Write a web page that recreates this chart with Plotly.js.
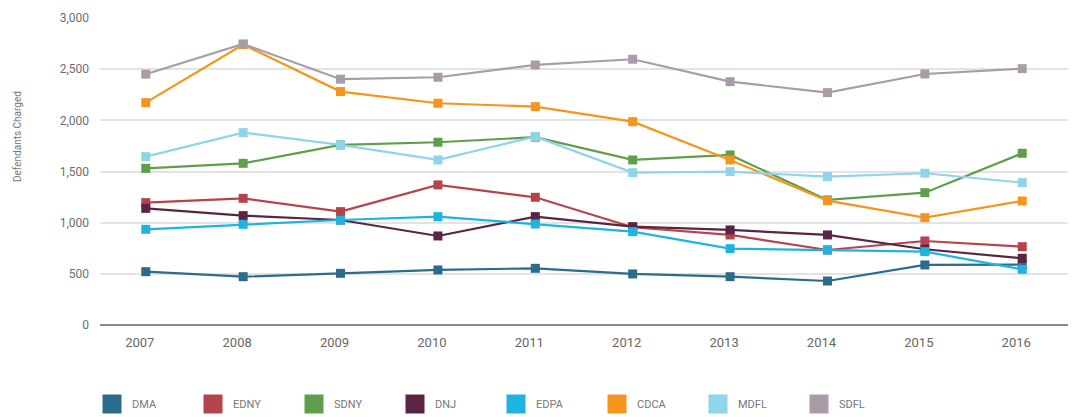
<!DOCTYPE html>
<html>
<head>
<meta charset="utf-8">
<script src="https://cdn.plot.ly/plotly-3.0.1.min.js"></script>
<style>html,body{margin:0;padding:0;background:#fff;}#chart{width:1076px;height:417px;}</style>
</head>
<body>
<div id="chart"></div>
<script>
const years = ['2007','2008','2009','2010','2011','2012','2013','2014','2015','2016'];
const DMA  = [521, 472, 505, 538, 554, 499, 472, 430, 587, 590];
const EDNY = [1196, 1238, 1108, 1369, 1248, 955, 880, 733, 821, 765];
const SDNY = [1531, 1580, 1760, 1786, 1835, 1613, 1662, 1222, 1293, 1678];
const DNJ  = [1140, 1069, 1026, 870, 1059, 961, 929, 880, 740, 652];
const EDPA = [935, 984, 1026, 1059, 987, 912, 746, 733, 717, 544];
const CDCA = [2173, 2740, 2281, 2167, 2134, 1987, 1613, 1215, 1049, 1212];
const MDFL = [1645, 1880, 1760, 1613, 1841, 1489, 1499, 1450, 1483, 1391];
const SDFL = [2451, 2747, 2402, 2421, 2541, 2597, 2378, 2271, 2453, 2505];

const names = ['DMA','EDNY','SDNY','DNJ','EDPA','CDCA','MDFL','SDFL'];
const series = [DMA, EDNY, SDNY, DNJ, EDPA, CDCA, MDFL, SDFL];
const colors = ['#2b6b8c','#b5434b','#5f9e4b','#5a2444','#1eb4e0','#f7941d','#8fd4ea','#a99ca9'];

const traces = [];
series.forEach((vals, i) => {
  traces.push({
    x: years, y: vals, type: 'scatter', mode: 'lines+markers', name: names[i],
    line: {color: colors[i], width: 2.2},
    marker: {symbol: 'square', size: 9, color: colors[i]},
    showlegend: false, hoverinfo: 'x+y+name'
  });
});
series.forEach((vals, i) => {
  traces.push({
    x: [null], y: [null], type: 'scatter', mode: 'markers', name: names[i],
    marker: {symbol: 'square', size: 16, color: colors[i], line: {color: colors[i], width: 3}},
    showlegend: true
  });
});

const plotL = 100, plotR = 1068, plotT = 18, plotB = 325;
const W = 1076, H = 417;

const layout = {
  width: W, height: H,
  margin: {l: plotL, r: W - plotR, t: plotT, b: H - plotB, autoexpand: false},
  paper_bgcolor: '#fff', plot_bgcolor: '#fff',
  font: {family: 'Roboto, "Open Sans", sans-serif', color: '#6e6e6e', size: 12},
  showlegend: true,
  legend: {
    orientation: 'h', x: (92 - plotL) / (plotR - plotL), xanchor: 'left',
    y: -(404 - plotB) / (plotB - plotT), yanchor: 'middle',
    entrywidth: 56, entrywidthmode: 'pixels', tracegroupgap: 0,
    font: {size: 11, color: '#777'}, itemclick: false, itemdoubleclick: false
  },
  xaxis: {
    type: 'category', range: [-0.47, 9.47],
    showgrid: false, zeroline: false, showline: false,
    ticks: '', ticklabelstandoff: 8, ticklabelshift: -6,
    tickfont: {size: 13, color: '#666'}, fixedrange: true
  },
  yaxis: {
    range: [0, 3000], dtick: 500, tick0: 0, tickformat: ',d',
    showgrid: true, gridcolor: '#e3e3e3', gridwidth: 2,
    zeroline: true, zerolinecolor: '#8a8a8a', zerolinewidth: 2,
    showline: false, ticks: '', ticklabelstandoff: 10,
    tickfont: {size: 12, color: '#6e6e6e'}, fixedrange: true
  },
  annotations: [{
    text: 'Defendants Charged', textangle: -90,
    xref: 'paper', yref: 'paper',
    x: (17 - plotL) / (plotR - plotL), y: (plotB - 137) / (plotB - plotT),
    xanchor: 'center', yanchor: 'middle', showarrow: false,
    font: {size: 10, color: '#777'}
  }]
};

Plotly.newPlot('chart', traces, layout, {displayModeBar: false, staticPlot: true});
</script>
</body>
</html>
